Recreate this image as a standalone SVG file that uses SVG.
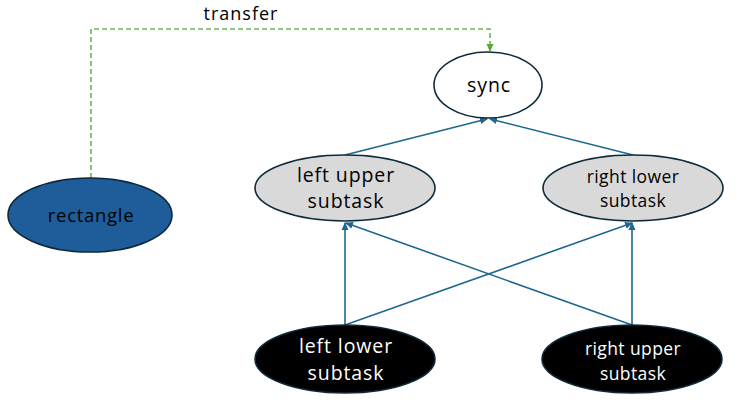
<svg xmlns="http://www.w3.org/2000/svg" width="755" height="412" viewBox="0 0 755 412">
<style>
text{font-family:"Open Sans","Liberation Sans",sans-serif;text-anchor:middle;}
.e{stroke-width:1.6;fill:none;}
.blue{stroke:#1d6890;}
.node{stroke:#0e2a3d;stroke-width:1.6;}
.big{font-size:19.5px;letter-spacing:0.9px;}
.small{font-size:17.5px;letter-spacing:0.4px;}
.w{fill:#fff;}
</style>
<defs>
<marker id="ab" markerWidth="8" markerHeight="8" refX="7" refY="4" orient="auto" markerUnits="userSpaceOnUse"><path d="M0,0.5 L8,4 L0,7.5 Z" fill="#1d6890"/></marker>
<marker id="ag" markerWidth="8" markerHeight="8" refX="7" refY="4" orient="auto" markerUnits="userSpaceOnUse"><path d="M0,0.5 L8,4 L0,7.5 Z" fill="#5aa83c"/></marker>
</defs>
<g id="connectors">
<path class="e" d="M91,178 V29 H490 V51" stroke="#6db556" stroke-width="1" stroke-dasharray="5,3" marker-end="url(#ag)"/>
<text x="241" y="20" style="font-size:18px;letter-spacing:1px" fill="#000">transfer</text>
<line class="e blue" x1="345" y1="155" x2="487" y2="119" marker-end="url(#ab)"/>
<line class="e blue" x1="633" y1="155" x2="490" y2="119" marker-end="url(#ab)"/>
<line class="e blue" x1="345" y1="325" x2="345" y2="223" marker-end="url(#ab)"/>
<line class="e blue" x1="345" y1="325" x2="632" y2="223" marker-end="url(#ab)"/>
<line class="e blue" x1="632" y1="325" x2="346" y2="223" marker-end="url(#ab)"/>
<line class="e blue" x1="632" y1="325" x2="632" y2="223" marker-end="url(#ab)"/>
</g>
<g id="sync">
<ellipse class="node" cx="488" cy="85" rx="54" ry="33" fill="#fff"/>
<text x="489" y="92" class="big">sync</text>
</g>
<g id="rectangle">
<ellipse class="node" cx="90" cy="215" rx="82" ry="37" fill="#1f5d9a"/>
<text x="91" y="222" style="font-size:18.5px;letter-spacing:0.7px" fill="#000">rectangle</text>
</g>
<g id="left-upper">
<ellipse class="node" cx="345" cy="188" rx="90" ry="33" fill="#d9d9d9"/>
<text x="346" y="182" class="big">left upper</text>
<text x="346" y="208" class="big">subtask</text>
</g>
<g id="right-lower">
<ellipse class="node" cx="633" cy="188" rx="90" ry="33" fill="#d9d9d9"/>
<text x="633" y="183" class="small">right lower</text>
<text x="633" y="207" class="small">subtask</text>
</g>
<g id="left-lower">
<ellipse class="node" cx="345" cy="359" rx="90" ry="34" fill="#000"/>
<text x="346" y="353" class="big w">left lower</text>
<text x="346" y="380" class="big w">subtask</text>
</g>
<g id="right-upper">
<ellipse class="node" cx="632" cy="359" rx="90" ry="34" fill="#000"/>
<text x="633" y="355" class="small w">right upper</text>
<text x="633" y="380" class="small w">subtask</text>
</g>
</svg>
